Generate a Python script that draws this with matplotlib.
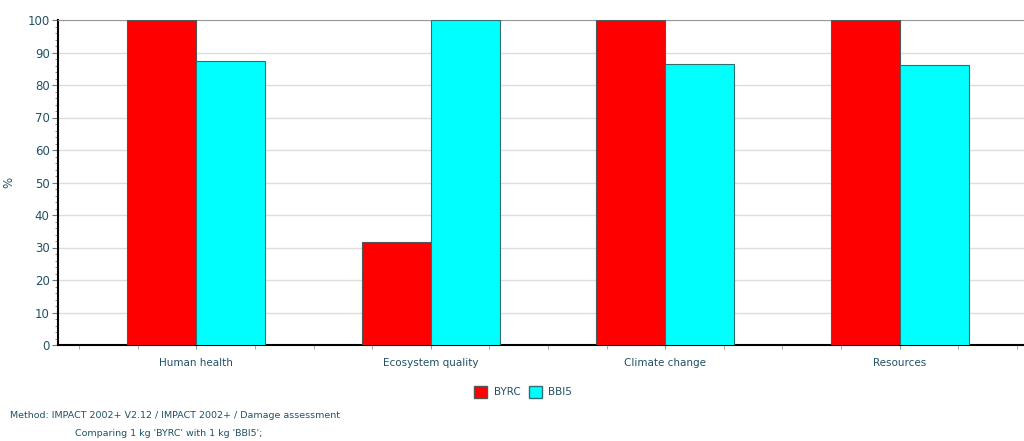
import matplotlib.pyplot as plt
import numpy as np
from matplotlib.ticker import MultipleLocator
from matplotlib.patches import Patch

categories = ['Human health', 'Ecosystem quality', 'Climate change', 'Resources']
byrc = [100, 31.6, 100, 100]
bbi5 = [87.4, 100, 86.5, 86.2]
series_names = ['BYRC', 'BBI5']

txt_color = '#1f5266'
plt.rcParams['font.family'] = ['DejaVu Sans']

fig = plt.figure(figsize=(10.24, 4.41), dpi=100)
ax = fig.add_axes([58 / 1024, 96 / 441, 980 / 1024, 325 / 441])

x = np.arange(len(categories))
w = 0.295
ax.bar(x - w / 2, byrc, w, color='#ff0000', edgecolor='#555555', linewidth=0.8, zorder=3)
ax.bar(x + w / 2, bbi5, w, color='#00ffff', edgecolor='#2f6f6f', linewidth=0.8, zorder=3)

ax.set_xlim(-0.59, 3.59)
ax.set_ylim(0, 100)
ax.set_xticks(x)
ax.set_xticklabels(categories, fontsize=7.5, color=txt_color)
ax.xaxis.set_minor_locator(MultipleLocator(0.25))
ax.tick_params(axis='x', which='major', length=3, color='#999999', pad=6)
ax.tick_params(axis='x', which='minor', length=3, color='#999999')
ax.set_yticks(np.arange(0, 101, 10))
ax.yaxis.set_minor_locator(MultipleLocator(2))
ax.tick_params(axis='y', which='major', labelsize=8.5, labelcolor=txt_color, length=4, color='#777777', pad=2)
ax.tick_params(axis='y', which='minor', length=2, color='#777777')
ax.grid(axis='y', color='#dddddd', linewidth=1, zorder=0)
ax.set_ylabel('%', color=txt_color, fontsize=8.5)
ax.yaxis.set_label_coords(-0.044, 0.5)

ax.spines['left'].set_linewidth(1.5)
ax.spines['bottom'].set_linewidth(1.5)
ax.spines['top'].set_color('#999999')
ax.spines['right'].set_visible(False)

handles = [Patch(facecolor='#ff0000', edgecolor='#555555'),
           Patch(facecolor='#00ffff', edgecolor='#2f6f6f')]
leg = fig.legend(handles, series_names, loc='center', bbox_to_anchor=(523 / 1024, 1 - 392 / 441),
                 ncol=2, frameon=False, fontsize=7.5, handlelength=1.3, handleheight=1.3,
                 columnspacing=0.8, handletextpad=0.6)
for t in leg.get_texts():
    t.set_color(txt_color)

fig.text(10 / 1024, 1 - 416 / 441, 'Method: IMPACT 2002+ V2.12 / IMPACT 2002+ / Damage assessment',
         fontsize=6.8, color=txt_color, va='center')
fig.text(75 / 1024, 1 - 434 / 441, "Comparing 1 kg 'BYRC' with 1 kg 'BBI5';",
         fontsize=6.8, color=txt_color, va='center')

fig.savefig('out.png', dpi=100)
